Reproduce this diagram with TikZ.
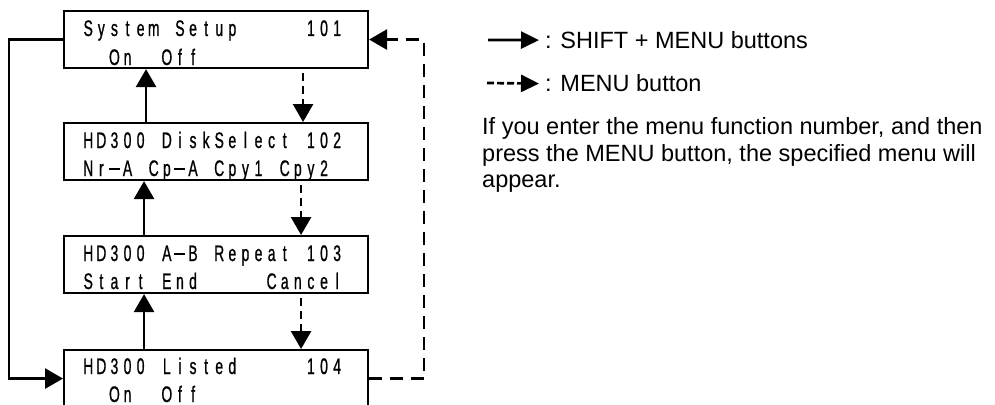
\documentclass[tikz,border=0pt]{standalone}
\usepackage{fontspec}
\setmainfont{Liberation Sans}
\newfontfamily\lcdfont[FakeStretch=0.62,FakeBold=0.8]{Liberation Sans}
\usetikzlibrary{arrows.meta}
\ExplSyntaxOn
\NewDocumentCommand\lcd{m}{
  \str_map_inline:nn {#1} {
    \str_if_eq:nnTF {##1} {.} {\makebox[13.1pt]{}}
    {
      \str_if_eq:nnTF {##1} {-}
        {\makebox[13.1pt]{\rule[6pt]{11pt}{1.6pt}}}
        {\makebox[13.1pt]{##1}}
    }
  }
}
\ExplSyntaxOff
\tikzset{
  lcdbox/.style={draw, line width=2.1pt, minimum width=304pt, minimum height=57pt, inner sep=0pt, anchor=north west},
  lcdtext/.style={anchor=base west, inner sep=0pt, font=\lcdfont\fontsize{22.5pt}{26pt}\selectfont},
  shiftarrow/.style={line width=2.7pt, -{Triangle[length=18pt,width=20pt]}},
  menuarrow/.style={line width=2.7pt, dash pattern=on 8pt off 5pt, shorten <=4pt, -{Triangle[length=18pt,width=20pt]}},
  looparrow/.style={line width=2.7pt, dash pattern=on 13pt off 8pt, -{Triangle[length=18pt,width=20pt]}},
  legtext/.style={anchor=base west, inner sep=0pt, font=\fontsize{23.5pt}{26.5pt}\selectfont},
}
\begin{document}
\begin{tikzpicture}[x=1pt, y=-1pt]
\clip (0,0) rectangle (995,404);
% boxes
\node[lcdbox] (b1) at (63,10) {};
\node[lcdbox] (b2) at (63,122) {};
\node[lcdbox] (b3) at (63,235) {};
\node[lcdbox] (b4) at (63,349) {};
% texts
\path (b1.north west) ++(18.5,26) node[lcdtext] (t11) {\lcd{System.Setup.....101}};
\path (b1.north west) ++(18.5,55) node[lcdtext] (t12) {\lcd{..On..Off}};
\path (b2.north west) ++(18.5,26) node[lcdtext] (t21) {\lcd{HD300.DiskSelect.102}};
\path (b2.north west) ++(18.5,54) node[lcdtext] (t22) {\lcd{Nr-A.Cp-A.Cpy1.Cpy2}};
\path (b3.north west) ++(18.5,26) node[lcdtext] (t31) {\lcd{HD300.A-B.Repeat.103}};
\path (b3.north west) ++(18.5,54) node[lcdtext] (t32) {\lcd{Start.End.....Cancel}};
\path (b4.north west) ++(18.5,25) node[lcdtext] (t41) {\lcd{HD300.Listed.....104}};
\path (b4.north west) ++(18.5,53) node[lcdtext] (t42) {\lcd{..On..Off}};
% shift arrows (up)
\draw[shiftarrow] ([xshift=-70pt]b2.north) -- ([xshift=-70pt]b1.south);
\draw[shiftarrow] ([xshift=-72pt]b3.north) -- ([xshift=-72pt]b2.south);
\draw[shiftarrow] ([xshift=-72pt]b4.north) -- ([xshift=-72pt]b3.south);
% menu arrows (down)
\draw[menuarrow] ([xshift=87pt]b1.south) -- ([xshift=87pt]b2.north);
\draw[menuarrow] ([xshift=85pt]b2.south) -- ([xshift=85pt]b3.north);
\draw[menuarrow] ([xshift=85pt]b3.south) -- ([xshift=85pt]b4.north);
% loops
\draw[shiftarrow] (b1.west) -- ++(-54,0) |- (b4.west);
\draw[looparrow] (b4.east) -- ++(55,0) |- (b1.east);
% legend
\node[legtext] (l1) at (545,48.5) {: SHIFT + MENU buttons};
\node[legtext] (l2) at (545,92) {: MENU button};
\coordinate (l1s) at (488,40);
\coordinate (l2s) at (487,83);
\draw[line width=2.7pt, -{Triangle[length=18pt,width=17pt]}] (l1s) -- ([xshift=-6pt]l1.west);
\draw[line width=2.7pt, dash pattern=on 7pt off 3pt, -{Triangle[length=18pt,width=17pt]}] (l2s) -- ([xshift=-6pt]l2.west);
\node[legtext, anchor=north west, align=left] (para) at (482,117.5) {If you enter the menu function number, and then\\press the MENU button, the specified menu will\\appear.};
\end{tikzpicture}
\end{document}
